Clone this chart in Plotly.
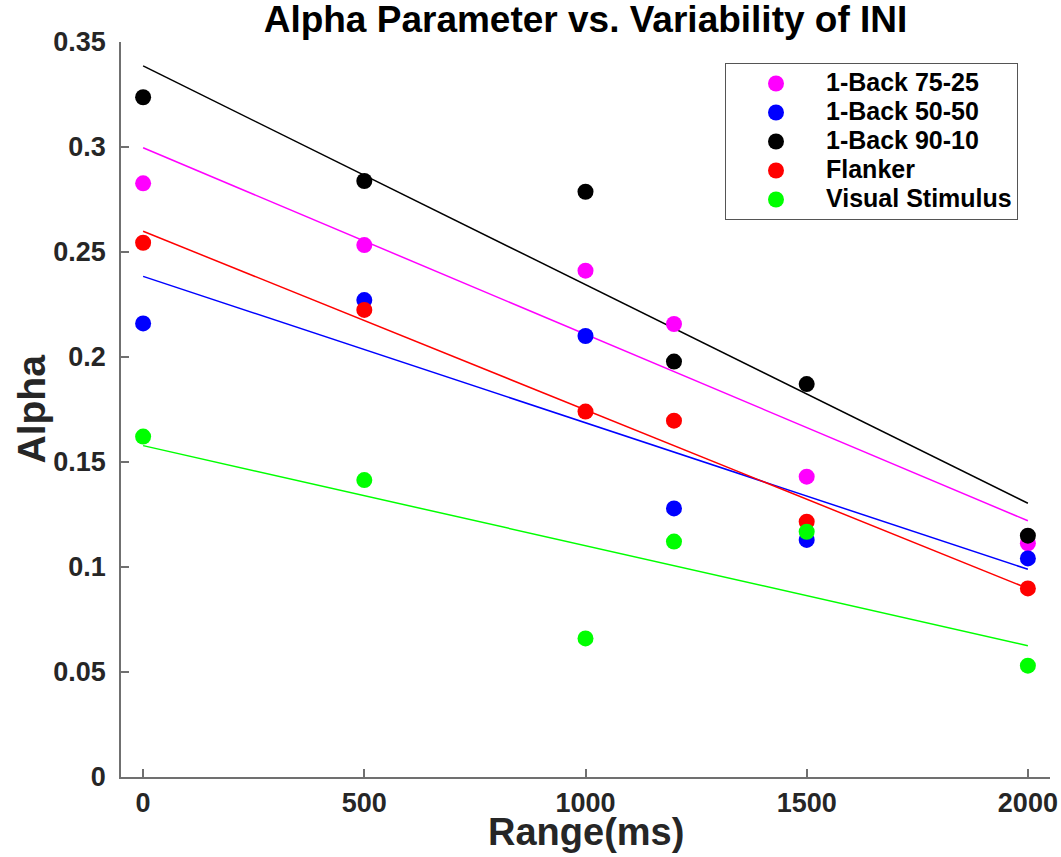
import numpy as np
import plotly.graph_objects as go

# Range of the inter-stimulus interval (ms)
ranges = [0, 500, 1000, 1200, 1500, 2000]

# Fitted alpha parameter per condition
back_75_25 = [0.2827, 0.2533, 0.2411, 0.2157, 0.1430, 0.1113]
back_50_50 = [0.2160, 0.2271, 0.2100, 0.1279, 0.1129, 0.1041]
back_90_10 = [0.3237, 0.2838, 0.2787, 0.1978, 0.1871, 0.1149]
flanker = [0.2544, 0.2224, 0.1740, 0.1697, 0.1216, 0.0898]
visual_stimulus = [0.1621, 0.1414, 0.0660, 0.1121, 0.1168, 0.0530]

series_names = ["1-Back 75-25", "1-Back 50-50", "1-Back 90-10", "Flanker", "Visual Stimulus"]
series_values = [back_75_25, back_50_50, back_90_10, flanker, visual_stimulus]
series_colors = ["#ff00ff", "#0000ff", "#000000", "#ff0000", "#00ff00"]

x_ticks = [0, 500, 1000, 1500, 2000]
x_tick_labels = ["0", "500", "1000", "1500", "2000"]
y_ticks = [0, 0.05, 0.1, 0.15, 0.2, 0.25, 0.3, 0.35]
y_tick_labels = ["0", "0.05", "0.1", "0.15", "0.2", "0.25", "0.3", "0.35"]

FONT = "Liberation Sans, Arial, Helvetica, sans-serif"
TEXT = "#262626"
AXIS = "#707070"

# plot-area geometry in pixels
W, H = 1061, 857
L, R, T, B = 121, 11, 42, 80
PW, PH = W - L - R, H - T - B

fig = go.Figure()

# least-squares trend line for each condition
x_arr = np.array(ranges, dtype=float)
x_line = np.array([min(ranges), max(ranges)], dtype=float)
for name, vals, col in zip(series_names, series_values, series_colors):
    slope, intercept = np.polyfit(x_arr, np.array(vals), 1)
    fig.add_trace(go.Scatter(
        x=x_line, y=slope * x_line + intercept, mode="lines",
        line=dict(color=col, width=1.5), showlegend=False, hoverinfo="skip",
    ))

for i, (name, vals, col) in enumerate(zip(series_names, series_values, series_colors)):
    fig.add_trace(go.Scatter(
        x=ranges, y=vals, mode="markers",
        # larger glyphs than the legend row height so entries stay compact
        name=f'<span style="font-size:25px">{name}</span>',
        marker=dict(color=col, size=16, line=dict(width=0)),
        legendgroup=f"g{i}",
    ))

axis_common = dict(
    showline=True, linecolor=AXIS, linewidth=1.5, mirror=False,
    ticks="inside", ticklen=8, tickwidth=1.5, tickcolor=AXIS,
    showgrid=False, zeroline=False, automargin=False,
    tickfont=dict(size=27, color=TEXT, weight="bold", family=FONT),
)

fig.update_layout(
    width=W, height=H,
    margin=dict(l=L, r=R, t=T, b=B),
    paper_bgcolor="white", plot_bgcolor="white",
    font=dict(family=FONT, color=TEXT, weight="bold"),
    title=dict(
        text="Alpha Parameter vs. Variability of INI",
        x=(L + W - R) / 2 / W, xanchor="center",
        y=1 - 19 / H, yanchor="middle",
        font=dict(family=FONT, size=37, color="#000000", weight="bold"),
    ),
    xaxis=dict(range=[-50, 2050], tickvals=x_ticks, ticktext=x_tick_labels,
               ticklabelstandoff=1, **axis_common),
    yaxis=dict(range=[0, 0.35], tickvals=y_ticks, ticktext=y_tick_labels,
               ticklabelstandoff=8, **axis_common),
    legend=dict(
        x=(725 - L) / PW, xanchor="left",
        y=(H - B - 63) / PH, yanchor="top",
        bgcolor="white", bordercolor="#555555", borderwidth=1,
        font=dict(size=20, color="#000000", weight="bold", family=FONT),
        itemwidth=90, tracegroupgap=0,
    ),
)

# axis titles
fig.add_annotation(
    text="Range(ms)", xref="paper", yref="paper",
    x=0.5, y=-(832 - (H - B)) / PH, xanchor="center", yanchor="middle",
    showarrow=False, font=dict(size=38, color=TEXT, weight="bold", family=FONT),
)
fig.add_annotation(
    text="Alpha", xref="paper", yref="paper",
    x=-(L - 31) / PW, y=0.5, xanchor="center", yanchor="middle", textangle=-90,
    showarrow=False, font=dict(size=39, color=TEXT, weight="bold", family=FONT),
)

fig.write_html("out.html")
